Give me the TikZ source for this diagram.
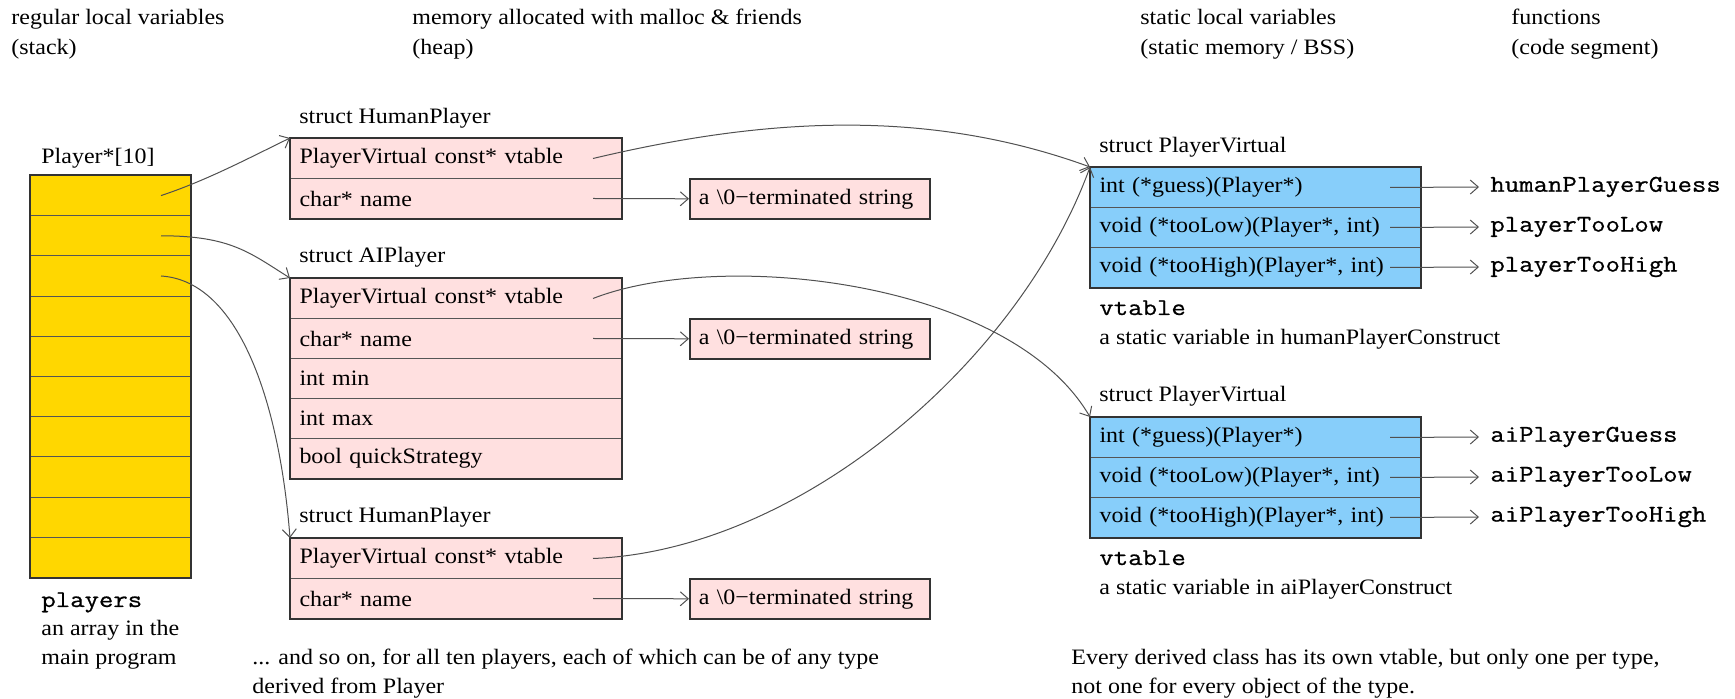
\documentclass[tikz,border=0pt]{standalone}
\usepackage{fontspec}
\setmainfont[FakeStretch=1.09]{Liberation Serif}
\setmonofont[FakeStretch=1.165,FakeBold=0.8]{Latin Modern Mono}
\usetikzlibrary{arrows.meta}
\definecolor{pinkc}{HTML}{FFE0E0}
\definecolor{bluec}{HTML}{87CEFA}
\definecolor{goldc}{HTML}{FFD700}
\definecolor{edgec}{HTML}{333333}
\definecolor{sepc}{HTML}{555555}
\definecolor{arrc}{HTML}{505050}
\begin{document}
\begin{tikzpicture}[x=0.5pt,y=-0.5pt,
  txt/.style={font=\fontsize{11}{15}\selectfont, inner sep=0pt, anchor=base west},
  mono/.style={font=\fontsize{12}{15}\selectfont\ttfamily, inner sep=0pt, anchor=base west},
  prow/.style={draw=sepc, line width=0.5pt, fill=pinkc, minimum height=20pt, text width=156.5pt, inner xsep=4.5pt, inner ysep=0pt, anchor=north west, align=left, font=\fontsize{11}{13}\selectfont},
  brow/.style={prow, fill=bluec, text width=156pt},
  strbox/.style={draw=edgec, line width=0.8pt, fill=pinkc, minimum height=20pt, text width=111pt, inner xsep=4.5pt, inner ysep=0pt, anchor=north west, align=left, font=\fontsize{11}{13}\selectfont},
  cell/.style={draw=sepc, line width=0.5pt, fill=goldc, minimum width=80pt, minimum height=20.1pt, anchor=north west, inner sep=0pt},
  outer/.style={draw=edgec, line width=0.8pt},
  fn/.style={font=\fontsize{12}{15}\selectfont\ttfamily, inner xsep=5.5pt, inner ysep=0pt, anchor=west},
  ptr/.style={draw=arrc, line width=0.5pt, -{Straight Barb[length=4pt,width=7pt]}},
]
\useasboundingbox (0,0) rectangle (1735,699);

% headers
\node[txt] (h1a) at (11,25) {regular local variables};
\node[txt] (h1b) at (11,55) {(stack)};
\node[txt] (h2a) at (412,25) {memory allocated with malloc \& friends};
\node[txt] (h2b) at (412,55) {(heap)};
\node[txt] (h3a) at (1140,25) {static local variables};
\node[txt] (h3b) at (1140,55) {(static memory / BSS)};
\node[txt] (h4a) at (1511,25) {functions};
\node[txt] (h4b) at (1511,55) {(code segment)};

% array
\node[txt] (arrlbl) at (41,164) {Player*[10]};
\foreach \i in {0,...,9} {
  \node[cell] (c\i) at (30,{175+40.2*\i}) {};
}
\draw[outer] (c0.north west) rectangle (c9.south east);
\node[mono] (pl) at (41,607) {players};
\node[txt] (pl2) at (41,636) {an array in the};
\node[txt] (pl3) at (41,665) {main program};

% struct HumanPlayer 1
\node[txt] (hp1l) at (299,124) {struct HumanPlayer};
\node[prow] (hp1a) at (290,138) {PlayerVirtual const* vtable};
\node[prow] (hp1b) at (290,178) {char* name};
\draw[outer] (hp1a.north west) rectangle (hp1b.south east);
\node[strbox] (s1) at (689,178) {a \textbackslash0−terminated string};

% struct AIPlayer
\node[txt] (ail) at (299,263) {struct AIPlayer};
\node[prow] (aia) at (290,278) {PlayerVirtual const* vtable};
\node[prow] (aib) at (290,318) {char* name};
\node[prow] (aic) at (290,358) {int min};
\node[prow] (aid) at (290,398) {int max};
\node[prow] (aie) at (290,438) {bool quickStrategy};
\draw[outer] (aia.north west) rectangle (aie.south east);
\node[strbox] (s2) at (689,318) {a \textbackslash0−terminated string};

% struct HumanPlayer 2
\node[txt] (hp2l) at (299,523) {struct HumanPlayer};
\node[prow] (hp2a) at (290,538) {PlayerVirtual const* vtable};
\node[prow] (hp2b) at (290,578) {char* name};
\draw[outer] (hp2a.north west) rectangle (hp2b.south east);
\node[strbox] (s3) at (689,578) {a \textbackslash0−terminated string};

\node[txt] (note1) at (252,665) {... and so on, for all ten players, each of which can be of any type};
\node[txt] (note1b) at (252,694) {derived from Player};

% vtable top
\node[txt] (v1l) at (1099,153) {struct PlayerVirtual};
\node[brow] (v1a) at (1090,167) {int (*guess)(Player*)};
\node[brow] (v1b) at (1090,207) {void (*tooLow)(Player*, int)};
\node[brow] (v1c) at (1090,247) {void (*tooHigh)(Player*, int)};
\draw[outer] (v1a.north west) rectangle (v1c.south east);
\node[mono] (v1n) at (1099,315) {vtable};
\node[txt] (v1d) at (1099,345) {a static variable in humanPlayerConstruct};
\node[fn] (f1a) at (1479,187) {humanPlayerGuess};
\node[fn] (f1b) at (1479,227) {playerTooLow};
\node[fn] (f1c) at (1479,267) {playerTooHigh};

% vtable bottom
\node[txt] (v2l) at (1099,402) {struct PlayerVirtual};
\node[brow] (v2a) at (1090,417) {int (*guess)(Player*)};
\node[brow] (v2b) at (1090,457) {void (*tooLow)(Player*, int)};
\node[brow] (v2c) at (1090,497) {void (*tooHigh)(Player*, int)};
\draw[outer] (v2a.north west) rectangle (v2c.south east);
\node[mono] (v2n) at (1099,565) {vtable};
\node[txt] (v2d) at (1099,595) {a static variable in aiPlayerConstruct};
\node[fn] (f2a) at (1479,437) {aiPlayerGuess};
\node[fn] (f2b) at (1479,477) {aiPlayerTooLow};
\node[fn] (f2c) at (1479,517) {aiPlayerTooHigh};

\node[txt] (note2) at (1071,665) {Every derived class has its own vtable, but only one per type,};
\node[txt] (note2b) at (1071,694) {not one for every object of the type.};

% pointer start coordinates
\coordinate (c0p) at ([xshift=-15pt]c0.center -| c0.east);
\coordinate (c1p) at ([xshift=-15pt]c1.center -| c1.east);
\coordinate (c2p) at ([xshift=-15pt]c2.center -| c2.east);
\coordinate (hp1ap) at ([xshift=-14.5pt]hp1a.east);
\coordinate (hp1bp) at ([xshift=-14.5pt]hp1b.east);
\coordinate (aiap) at ([xshift=-14.5pt]aia.east);
\coordinate (aibp) at ([xshift=-14.5pt]aib.east);
\coordinate (hp2ap) at ([xshift=-14.5pt]hp2a.east);
\coordinate (hp2bp) at ([xshift=-14.5pt]hp2b.east);

% array -> structs
\draw[ptr] (c0p) .. controls +(45,-15) and +(-45,22) .. (hp1a.north west);
\draw[ptr] (c1p) .. controls +(70,0) and +(-40,-25) .. (aia.north west);
\draw[ptr] (c2p) .. controls +(80,5) and +(-10,-130) .. (hp2a.north west);

% name -> strings
\draw[ptr] (hp1bp) -- (s1.west);
\draw[ptr] (aibp) -- (s2.west);
\draw[ptr] (hp2bp) -- (s3.west);

% vtable pointers
\draw[ptr] (hp1ap) .. controls +(160,-38) and +(-170,-62) .. (v1a.north west);
\draw[ptr] (aiap) .. controls +(128,-50) and +(-80,-137) .. (v2a.north west);
\draw[ptr] (hp2ap) .. controls +(208,-8) and +(-70,193) .. (v1a.north west);

% function pointers
\foreach \r/\f in {v1a/f1a, v1b/f1b, v1c/f1c, v2a/f2a, v2b/f2b, v2c/f2c} {
  \coordinate (\r p) at ([xshift=-15.5pt]\r.east);
  \draw[ptr] (\r p) -- (\f.west);
}
\end{tikzpicture}
\end{document}
